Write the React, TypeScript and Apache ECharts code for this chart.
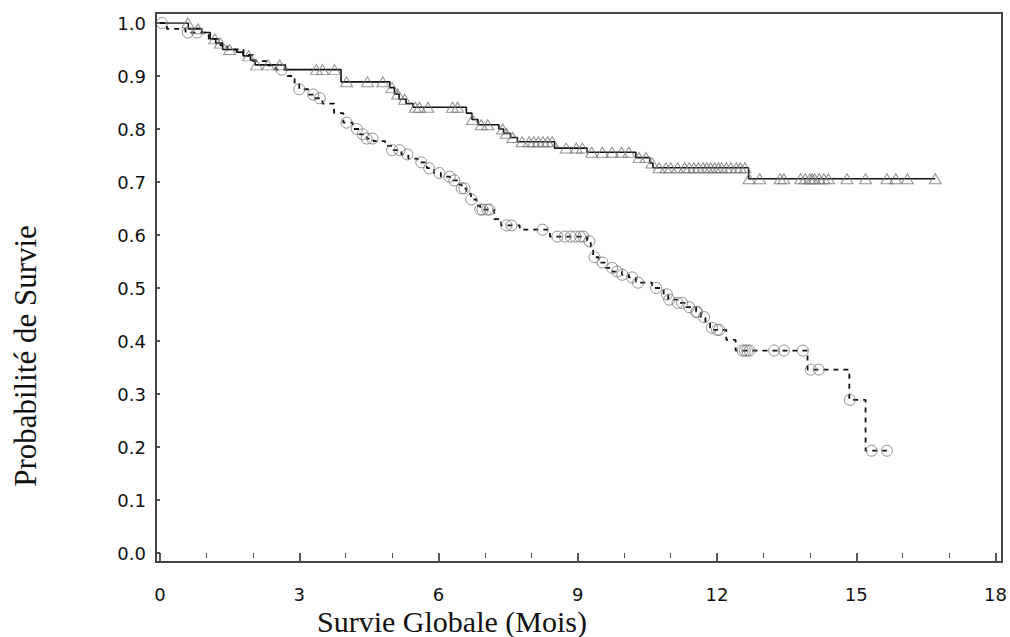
import React, { useEffect, useRef } from "react";
import * as echarts from "echarts";

// Kaplan-Meier curve, group A (solid line, triangle censor marks)
const groupATimes = [0, 0.61, 0.9, 1.08, 1.2, 1.35, 1.65, 1.79, 1.95, 2.05, 2.7, 3.9, 4.95, 5.05, 5.15, 5.3, 5.45, 6.6, 6.72, 6.85, 7.3, 7.4, 7.55, 7.7, 8.5, 9.2, 10.25, 10.55, 10.62, 12.68];
const groupASurv = [1.0, 0.989, 0.982, 0.97, 0.962, 0.95, 0.945, 0.938, 0.93, 0.921, 0.912, 0.889, 0.878, 0.866, 0.856, 0.848, 0.841, 0.83, 0.818, 0.808, 0.8, 0.792, 0.784, 0.776, 0.764, 0.756, 0.746, 0.736, 0.727, 0.706];
const groupACensor = [0.6, 0.82, 1.18, 1.3, 1.5, 1.91, 2.08, 2.33, 2.58, 3.37, 3.5, 3.76, 4.02, 4.47, 4.8, 5.0, 5.12, 5.27, 5.5, 5.59, 5.77, 6.3, 6.41, 6.73, 6.92, 7.06, 7.38, 7.46, 7.6, 7.8, 7.95, 8.05, 8.15, 8.25, 8.35, 8.45, 8.75, 8.97, 9.1, 9.3, 9.53, 9.74, 9.94, 10.1, 10.32, 10.47, 10.6, 10.75, 10.9, 11.0, 11.15, 11.3, 11.4, 11.5, 11.6, 11.7, 11.78, 11.86, 11.95, 12.03, 12.1, 12.2, 12.3, 12.42, 12.5, 12.6, 12.69, 12.92, 13.36, 13.44, 13.8, 13.9, 14.0, 14.05, 14.1, 14.2, 14.3, 14.4, 14.8, 15.2, 15.66, 15.85, 16.1, 16.7];

// Kaplan-Meier curve, group B (dashed line, circle censor marks)
const groupBTimes = [0, 0.15, 0.55, 1.05, 1.3, 1.45, 1.8, 2.0, 2.3, 2.5, 2.75, 2.9, 3.0, 3.2, 3.35, 3.5, 3.75, 3.95, 4.15, 4.3, 4.45, 4.6, 4.85, 5.0, 5.2, 5.35, 5.55, 5.75, 5.9, 6.05, 6.25, 6.4, 6.5, 6.6, 6.7, 6.82, 6.9, 7.2, 7.35, 7.75, 8.4, 9.2, 9.28, 9.33, 9.45, 9.6, 9.75, 9.95, 10.1, 10.25, 10.6, 10.85, 10.95, 11.15, 11.3, 11.55, 11.65, 11.75, 11.85, 11.9, 12.2, 12.4, 13.95, 14.85, 15.2];
const groupBSurv = [1.0, 0.989, 0.982, 0.97, 0.958, 0.95, 0.94, 0.928, 0.92, 0.912, 0.9, 0.885, 0.875, 0.865, 0.858, 0.848, 0.83, 0.812, 0.8, 0.79, 0.782, 0.777, 0.768, 0.76, 0.752, 0.744, 0.737, 0.726, 0.717, 0.71, 0.703, 0.695, 0.688, 0.678, 0.667, 0.655, 0.648, 0.63, 0.618, 0.61, 0.597, 0.588, 0.576, 0.558, 0.548, 0.538, 0.531, 0.525, 0.52, 0.51, 0.5, 0.488, 0.478, 0.472, 0.464, 0.455, 0.445, 0.436, 0.425, 0.421, 0.402, 0.382, 0.346, 0.289, 0.193];
const groupBCensor = [0.04, 0.6, 0.8, 2.62, 3.0, 3.3, 3.44, 4.02, 4.24, 4.37, 4.45, 4.58, 5.0, 5.16, 5.33, 5.63, 5.8, 6.02, 6.24, 6.34, 6.5, 6.56, 6.71, 6.9, 6.95, 7.05, 7.1, 7.46, 7.57, 8.24, 8.56, 8.72, 8.85, 8.95, 9.05, 9.12, 9.25, 9.36, 9.53, 9.74, 9.85, 9.96, 10.17, 10.3, 10.69, 10.92, 10.97, 11.15, 11.25, 11.4, 11.55, 11.57, 11.72, 11.89, 12.0, 12.05, 12.55, 12.6, 12.65, 12.7, 13.23, 13.44, 13.85, 14.02, 14.19, 14.86, 15.33, 15.66];

const xTickValues = [0, 3, 6, 9, 12, 15, 18];
const yTickValues = [0, 0.1, 0.2, 0.3, 0.4, 0.5, 0.6, 0.7, 0.8, 0.9, 1.0];

const xTitle = "Survie Globale (Mois)";
const yTitle = "Probabilité de Survie";

function survAt(times: number[], surv: number[], t: number): number {
  let v = surv[0];
  for (let i = 0; i < times.length; i++) {
    if (times[i] <= t + 1e-9) v = surv[i];
  }
  return v;
}

function stepData(times: number[], surv: number[], censor: number[]) {
  const pts: number[][] = times.map((t, i) => [t, surv[i]]);
  const last = Math.max(...censor);
  if (last > times[times.length - 1]) pts.push([last, survAt(times, surv, last)]);
  return pts;
}

function censorData(times: number[], surv: number[], censor: number[]) {
  return censor.map((t) => [t, survAt(times, surv, t)]);
}

export default function App() {
  const ref = useRef<HTMLDivElement>(null);
  useEffect(() => {
    if (!ref.current) return;
    const chart = echarts.init(ref.current, undefined, { renderer: "svg" });
    const tickFont = { fontFamily: "DejaVu Sans", fontSize: 18, color: "#111" };
    const axisCol = "#222";
    chart.setOption({
      animation: false,
      backgroundColor: "#fff",
      grid: { left: 160, right: 13, top: 23, bottom: 84, containLabel: false },
      xAxis: {
        type: "value",
        min: xTickValues[0],
        max: xTickValues[xTickValues.length - 1],
        interval: xTickValues[1] - xTickValues[0],
        offset: 10,
        axisLine: { show: false },
        axisTick: { show: true, length: 10, lineStyle: { color: axisCol, width: 1.5 } },
        minorTick: { show: true, splitNumber: 3, length: 5, lineStyle: { color: "#555", width: 1 } },
        axisLabel: { ...tickFont, margin: 22 },
        splitLine: { show: false },
      },
      yAxis: {
        type: "value",
        min: yTickValues[0],
        max: yTickValues[yTickValues.length - 1],
        interval: 0.1,
        offset: 4,
        axisLine: { show: false },
        axisTick: { show: true, length: 5, lineStyle: { color: axisCol, width: 1.5 } },
        axisLabel: { ...tickFont, margin: 10, formatter: (v: number) => v.toFixed(1) },
        splitLine: { show: false },
      },
      series: [
        {
          type: "line",
          name: "A",
          step: "end",
          data: stepData(groupATimes, groupASurv, groupACensor),
          symbol: "none",
          lineStyle: { color: "#111", width: 1.6 },
          z: 2,
        },
        {
          type: "line",
          name: "B",
          step: "end",
          data: stepData(groupBTimes, groupBSurv, groupBCensor),
          symbol: "none",
          lineStyle: { color: "#111", width: 1.8, type: [5, 5] },
          z: 2,
        },
        {
          type: "scatter",
          name: "A censor",
          data: censorData(groupATimes, groupASurv, groupACensor),
          symbol: "triangle",
          symbolSize: [12, 10],
          itemStyle: { color: "rgba(255,255,255,0)", borderColor: "#777", borderWidth: 1 },
          z: 3,
        },
        {
          type: "scatter",
          name: "B censor",
          data: censorData(groupBTimes, groupBSurv, groupBCensor),
          symbol: "circle",
          symbolSize: 11,
          itemStyle: { color: "rgba(255,255,255,0)", borderColor: "#777", borderWidth: 1 },
          z: 3,
        },
      ],
      graphic: [
        {
          type: "rect",
          shape: { x: 156, y: 13, width: 846, height: 549 },
          style: { fill: "none", stroke: "#444", lineWidth: 2 },
          silent: true,
          z: 10,
        },
        {
          type: "text",
          x: 452,
          y: 621,
          style: {
            text: xTitle,
            fontFamily: "Liberation Serif",
            fontSize: 30,
            fill: "#111",
            textAlign: "center",
            textVerticalAlign: "middle",
          },
        },
        {
          type: "text",
          x: 25,
          y: 356,
          rotation: Math.PI / 2,
          style: {
            text: yTitle,
            fontFamily: "Liberation Serif",
            fontSize: 31,
            fill: "#111",
            textAlign: "center",
            textVerticalAlign: "middle",
          },
        },
      ],
    });
    return () => chart.dispose();
  }, []);
  return (
    <div
      ref={ref}
      style={{ position: "fixed", left: 0, top: 0, width: 1010, height: 637, background: "#fff" }}
    />
  );
}
